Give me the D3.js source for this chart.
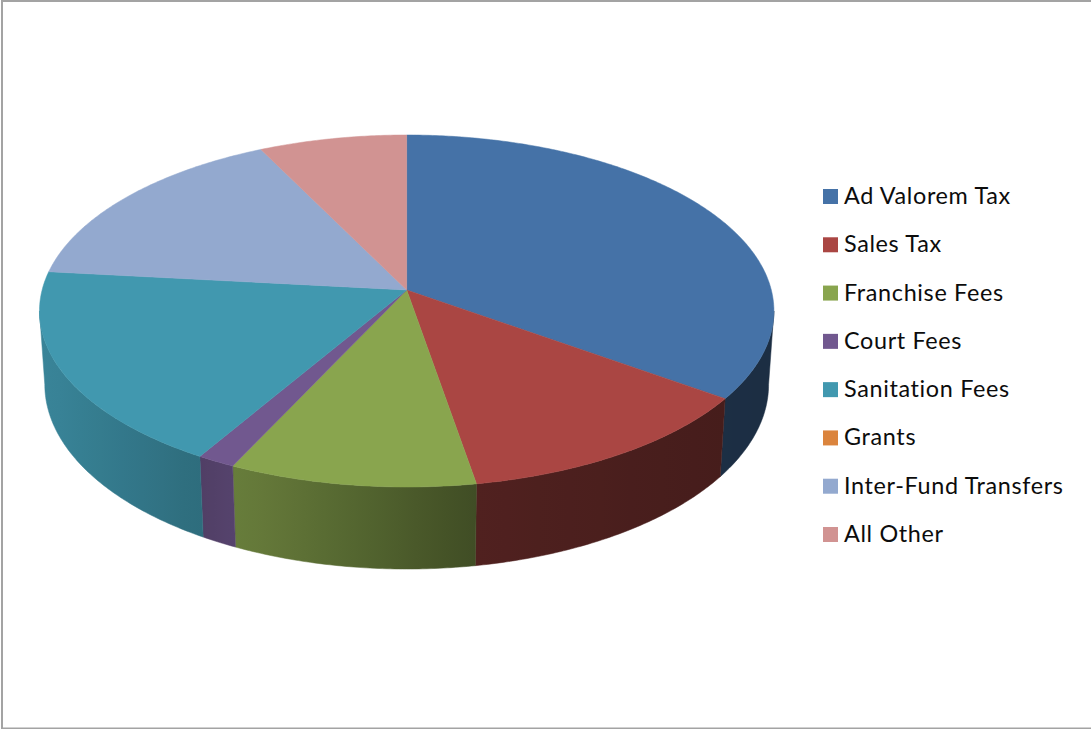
<!DOCTYPE html>
<html>
<head>
<meta charset="utf-8">
<script src="https://cdn.jsdelivr.net/npm/d3@7"></script>
<style>
body { margin: 0; background: #fff; }
svg { display: block; }
.legend-label { font-family: Lato, "Open Sans", sans-serif; font-size: 23.4px; letter-spacing: 0.65px; font-variant-ligatures: none; fill: #0c0c0c; }
</style>
</head>
<body>
<div class="interactive-wrapper"></div>
<script>
const categories = ['Ad Valorem Tax', 'Sales Tax', 'Franchise Fees', 'Court Fees', 'Sanitation Fees', 'Grants', 'Inter-Fund Transfers', 'All Other'];
const shares = [34.9, 12.4, 9.7, 1.5, 18.2, 0, 16.0, 7.3];
const colors = ['#4572A7', '#AA4643', '#89A54E', '#71588F', '#4198AF', '#DB843D', '#93A9CF', '#D19392'];

const w = 1091;
const h = 729;
const cx = 406.7;

// the disc is seen in perspective, so its centre sits above the middle of the ellipse
const topFace = {cy: 290, a: 364.6, b: 173.5, k: 0.1193};
const bottomFace = {cy: 362.8, a: 359.4, b: 182, k: 0.1175};

const project = (face, t) => {
	const X = Math.sin(t);
	const Y = -Math.cos(t);
	const d = 1 - face.k * Y;
	return [cx + face.a * X / d, face.cy + face.b * Y / d];
};

const arcPoints = (face, t0, t1) => {
	const n = Math.max(2, Math.ceil((t1 - t0) / 0.01));
	return d3.range(n + 1).map(i => project(face, t0 + (t1 - t0) * i / n));
};

const line = d3.line();

// how much light the rim gets, left to right
const rimLight = d3.scaleLinear()
.domain([47, 200, 236, 475, 722, 770])
.range([0.87, 0.71, 0.76, 0.47, 0.41, 0.40])
.clamp(true);

const svg = d3.select('.interactive-wrapper').append('svg')
.attr('width', w)
.attr('height', h);

const defs = svg.append('defs');

svg.append('rect')
.attr('x', 2)
.attr('y', 1)
.attr('width', w + 20)
.attr('height', h - 1.5)
.attr('fill', '#fff')
.attr('stroke', '#a3a3a3')
.attr('stroke-width', 2);

const slices = d3.pie().sort(null).value(d => d)(shares)
.map((s, i) => ({...s, i, name: categories[i], color: colors[i]}))
.filter(s => s.value > 0);

// the angle where a face is widest, the rim's outline runs between those points
const widest = face => Math.acos(-face.k);

const clipToFront = (s, face) => [
	Math.max(s.startAngle, widest(face)),
	Math.min(s.endAngle, Math.PI * 2 - widest(face))
];

// rim first, only the part facing the viewer
slices.forEach(s => {
	const [u0, u1] = clipToFront(s, topFace);
	const [l0, l1] = clipToFront(s, bottomFace);
	if (u1 <= u0) return;

	const upper = arcPoints(topFace, u0, u1);
	const lower = arcPoints(bottomFace, l0, l1);
	const pts = upper.concat(lower.reverse());
	const xs = d3.extent(pts, p => p[0]);

	const grad = defs.append('linearGradient')
	.attr('id', 'rim-' + s.i)
	.attr('gradientUnits', 'userSpaceOnUse')
	.attr('x1', xs[0])
	.attr('x2', xs[1])
	.attr('y1', 0)
	.attr('y2', 0);

	d3.range(9).forEach(j => {
		const x = xs[0] + (xs[1] - xs[0]) * j / 8;
		const c = d3.rgb(s.color);
		const l = rimLight(x);
		grad.append('stop')
		.attr('offset', j / 8)
		.attr('stop-color', d3.rgb(c.r * l, c.g * l, c.b * l).formatHex());
	});

	svg.append('path')
	.attr('d', line(pts) + 'Z')
	.attr('fill', 'url(#rim-' + s.i + ')')
	.attr('stroke', 'url(#rim-' + s.i + ')')
	.attr('stroke-width', 0.5);
});

slices.forEach(s => {
	const pts = [[cx, topFace.cy]].concat(arcPoints(topFace, s.startAngle, s.endAngle));
	svg.append('path')
	.attr('d', line(pts) + 'Z')
	.attr('fill', s.color)
	.attr('stroke', s.color)
	.attr('stroke-width', 0.5);
});

const legendY = d3.scalePoint()
.domain(categories)
.range([196.5, 534.5]);

const legend = svg.selectAll('.legend-item')
.data(categories)
.enter().append('g')
.attr('class', 'legend-item')
.attr('transform', d => 'translate(823,' + legendY(d) + ')');

legend.append('rect')
.attr('y', -7.5)
.attr('width', 15)
.attr('height', 15)
.attr('fill', (d, i) => colors[i]);

legend.append('text')
.attr('class', 'legend-label')
.attr('x', 21)
.attr('y', 7.5)
.text(d => d);
</script>
</body>
</html>
